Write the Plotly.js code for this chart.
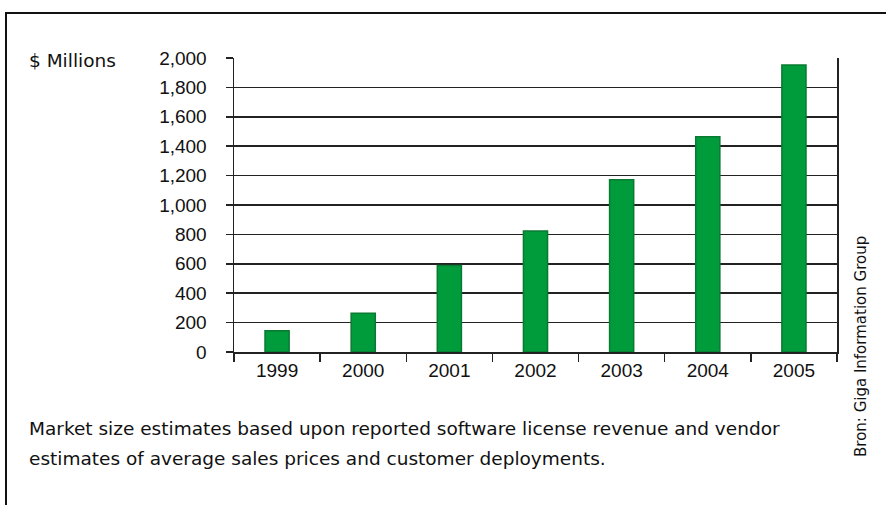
<!DOCTYPE html>
<html>
<head>
<meta charset="utf-8">
<script src="https://cdn.plot.ly/plotly-3.0.1.min.js"></script>
<style>
html,body{margin:0;padding:0;background:#fff;}
#chart{width:886px;height:505px;}
</style>
</head>
<body>
<div id="chart"></div>
<script>
const years = ['1999','2000','2001','2002','2003','2004','2005'];
const values = [145, 263, 588, 823, 1172, 1465, 1952];
const yTicks = [0,200,400,600,800,1000,1200,1400,1600,1800,2000];
const yTickLabels = ['0','200','400','600','800','1,000','1,200','1,400','1,600','1,800','2,000'];
const unitLabel = '$ Millions';
const footnoteLines = [
  'Market size estimates based upon reported software license revenue and vendor',
  'estimates of average sales prices and customer deployments.'
];
const sourceNote = 'Bron: Giga Information Group';

const W = 886, H = 505;
const L = 234, R = 837, T = 58, B = 352;
const px = x => (x - L) / (R - L);
const py = y => (B - y) / (B - T);
const NUMFONT = 'Liberation Sans, Arial, sans-serif';
const TXTFONT = 'DejaVu Sans, sans-serif';

const trace = {
  type: 'bar',
  x: years,
  y: values,
  width: 0.28,
  marker: {color: '#009b3a', line: {color: '#0a7a32', width: 1.5}},
  hoverinfo: 'x+y'
};

const layout = {
  width: W, height: H,
  margin: {l: L, r: W - R, t: T, b: H - B, pad: 0},
  paper_bgcolor: '#fff',
  plot_bgcolor: '#fff',
  showlegend: false,
  font: {family: NUMFONT, size: 19, color: '#111'},
  xaxis: {
    type: 'category',
    tickson: 'boundaries',
    ticks: 'outside', ticklen: 8, tickwidth: 1.5, tickcolor: '#222',
    showline: true, linecolor: '#222', linewidth: 1.5,
    showgrid: false,
    tickfont: {family: NUMFONT, size: 19, color: '#111'},
    ticklabelstandoff: 1
  },
  yaxis: {
    range: [0, 2000],
    tickvals: yTicks, ticktext: yTickLabels,
    ticks: 'outside', ticklen: 7, tickwidth: 1.5, tickcolor: '#222',
    showline: true, linecolor: '#222', linewidth: 1.5, mirror: true,
    showgrid: true, gridcolor: '#222', gridwidth: 1.5,
    zeroline: false,
    tickfont: {family: NUMFONT, size: 19, color: '#111'},
    ticklabelstandoff: 15
  },
  shapes: [
    {type: 'line', xref: 'paper', yref: 'paper', x0: px(6), x1: px(6), y0: py(12), y1: py(H + 5), line: {color: '#111', width: 2}},
    {type: 'line', xref: 'paper', yref: 'paper', x0: px(5), x1: px(W + 5), y0: py(13), y1: py(13), line: {color: '#111', width: 2}}
  ],
  annotations: [
    {text: unitLabel, xref: 'paper', yref: 'paper', x: px(27), y: py(60), xanchor: 'left', yanchor: 'middle', showarrow: false, font: {family: TXTFONT, size: 18.5, color: '#111'}},
    {text: footnoteLines[0], xref: 'paper', yref: 'paper', x: px(27), y: py(428), xanchor: 'left', yanchor: 'middle', align: 'left', showarrow: false, font: {family: TXTFONT, size: 18.5, color: '#111'}},
    {text: footnoteLines[1], xref: 'paper', yref: 'paper', x: px(27), y: py(458), xanchor: 'left', yanchor: 'middle', align: 'left', showarrow: false, font: {family: TXTFONT, size: 18.5, color: '#111'}},
    {text: sourceNote, xref: 'paper', yref: 'paper', x: px(861), y: py(347), xanchor: 'center', yanchor: 'middle', textangle: -90, showarrow: false, font: {family: TXTFONT, size: 15, color: '#111'}}
  ]
};

Plotly.newPlot('chart', [trace], layout, {displayModeBar: false, staticPlot: true});
</script>
</body>
</html>
